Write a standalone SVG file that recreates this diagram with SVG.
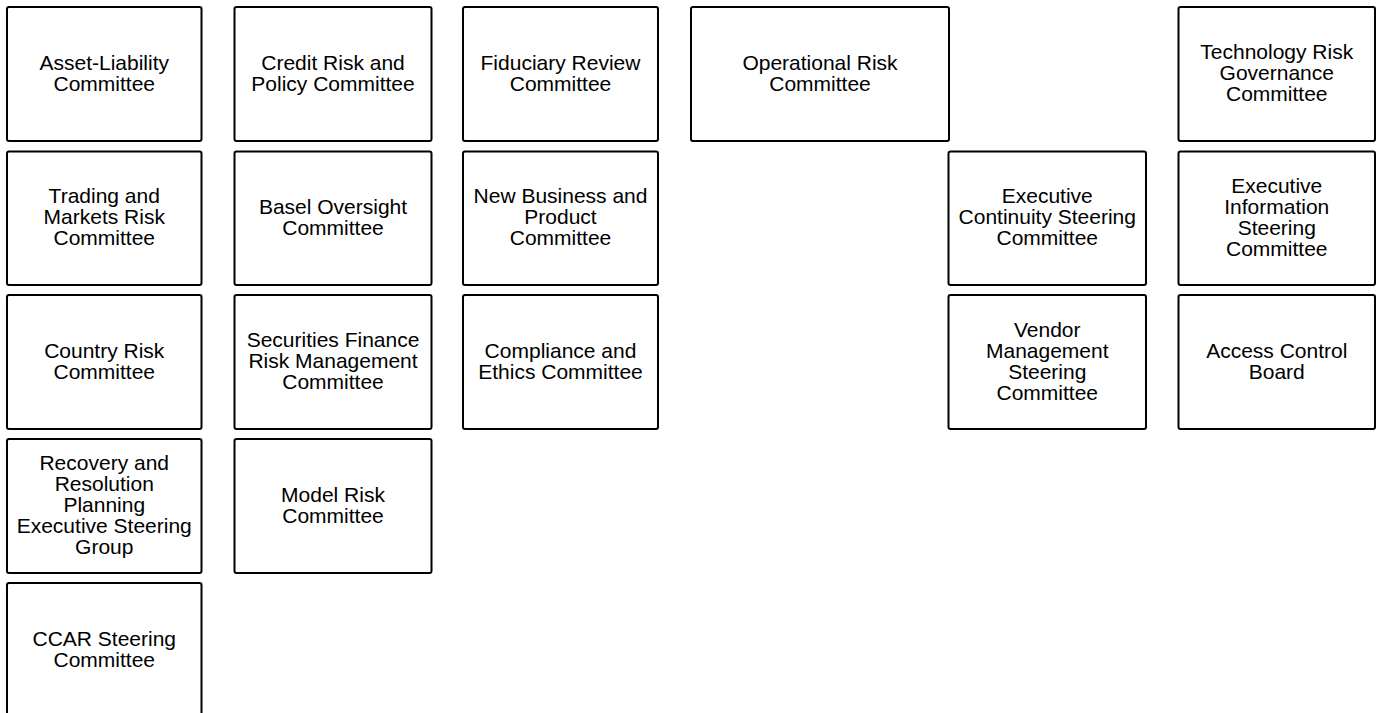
<svg xmlns="http://www.w3.org/2000/svg" width="1377" height="713" viewBox="0 0 1377 713">
<style>
.box{fill:#fff;stroke:#000;stroke-width:2}
.lbl{font-family:"Liberation Sans",Arial,sans-serif;font-size:21px;fill:#000;text-anchor:middle}
</style>
<rect width="1377" height="713" fill="#fff"/>
<g id="connectors"></g>
<g id="n-alco"><rect class="box" x="7" y="7" width="194.5" height="134" rx="2"/><text class="lbl" x="104.25"><tspan x="104.25" y="69.5">Asset-Liability</tspan><tspan x="104.25" y="90.5">Committee</tspan></text></g>
<g id="n-credit"><rect class="box" x="234.5" y="7" width="197" height="134" rx="2"/><text class="lbl"><tspan x="333" y="69.5">Credit Risk and</tspan><tspan x="333" y="90.5">Policy Committee</tspan></text></g>
<g id="n-fiduciary"><rect class="box" x="463" y="7" width="195" height="134" rx="2"/><text class="lbl"><tspan x="560.5" y="69.5">Fiduciary Review</tspan><tspan x="560.5" y="90.5">Committee</tspan></text></g>
<g id="n-oprisk"><rect class="box" x="691" y="7" width="258" height="134" rx="2"/><text class="lbl"><tspan x="820" y="69.5">Operational Risk</tspan><tspan x="820" y="90.5">Committee</tspan></text></g>
<g id="n-techrisk"><rect class="box" x="1178.5" y="7" width="196.5" height="134" rx="2"/><text class="lbl"><tspan x="1276.75" y="59">Technology Risk</tspan><tspan x="1276.75" y="80">Governance</tspan><tspan x="1276.75" y="101">Committee</tspan></text></g>

<g id="n-trading"><rect class="box" x="7" y="151.5" width="194.5" height="133.5" rx="2"/><text class="lbl"><tspan x="104.25" y="203.25">Trading and</tspan><tspan x="104.25" y="224.25">Markets Risk</tspan><tspan x="104.25" y="245.25">Committee</tspan></text></g>
<g id="n-basel"><rect class="box" x="234.5" y="151.5" width="197" height="133.5" rx="2"/><text class="lbl"><tspan x="333" y="213.75">Basel Oversight</tspan><tspan x="333" y="234.75">Committee</tspan></text></g>
<g id="n-newbiz"><rect class="box" x="463" y="151.5" width="195" height="133.5" rx="2"/><text class="lbl"><tspan x="560.5" y="203.25">New Business and</tspan><tspan x="560.5" y="224.25">Product</tspan><tspan x="560.5" y="245.25">Committee</tspan></text></g>
<g id="n-execcont"><rect class="box" x="948.5" y="151.5" width="197.5" height="133.5" rx="2"/><text class="lbl"><tspan x="1047.25" y="203.25">Executive</tspan><tspan x="1047.25" y="224.25">Continuity Steering</tspan><tspan x="1047.25" y="245.25">Committee</tspan></text></g>
<g id="n-execinfo"><rect class="box" x="1178.5" y="151.5" width="196.5" height="133.5" rx="2"/><text class="lbl"><tspan x="1276.75" y="192.75">Executive</tspan><tspan x="1276.75" y="213.75">Information</tspan><tspan x="1276.75" y="234.75">Steering</tspan><tspan x="1276.75" y="255.75">Committee</tspan></text></g>

<g id="n-country"><rect class="box" x="7" y="295" width="194.5" height="134" rx="2"/><text class="lbl"><tspan x="104.25" y="357.5">Country Risk</tspan><tspan x="104.25" y="378.5">Committee</tspan></text></g>
<g id="n-secfin"><rect class="box" x="234.5" y="295" width="197" height="134" rx="2"/><text class="lbl"><tspan x="333" y="347">Securities Finance</tspan><tspan x="333" y="368">Risk Management</tspan><tspan x="333" y="389">Committee</tspan></text></g>
<g id="n-compliance"><rect class="box" x="463" y="295" width="195" height="134" rx="2"/><text class="lbl"><tspan x="560.5" y="357.5">Compliance and</tspan><tspan x="560.5" y="378.5">Ethics Committee</tspan></text></g>
<g id="n-vendor"><rect class="box" x="948.5" y="295" width="197.5" height="134" rx="2"/><text class="lbl"><tspan x="1047.25" y="336.5">Vendor</tspan><tspan x="1047.25" y="357.5">Management</tspan><tspan x="1047.25" y="378.5">Steering</tspan><tspan x="1047.25" y="399.5">Committee</tspan></text></g>
<g id="n-access"><rect class="box" x="1178.5" y="295" width="196.5" height="134" rx="2"/><text class="lbl"><tspan x="1276.75" y="357.5">Access Control</tspan><tspan x="1276.75" y="378.5">Board</tspan></text></g>

<g id="n-recovery"><rect class="box" x="7" y="439" width="194.5" height="134" rx="2"/><text class="lbl"><tspan x="104.25" y="470">Recovery and</tspan><tspan x="104.25" y="491">Resolution</tspan><tspan x="104.25" y="512">Planning</tspan><tspan x="104.25" y="533">Executive Steering</tspan><tspan x="104.25" y="554">Group</tspan></text></g>
<g id="n-model"><rect class="box" x="234.5" y="439" width="197" height="134" rx="2"/><text class="lbl"><tspan x="333" y="501.5">Model Risk</tspan><tspan x="333" y="522.5">Committee</tspan></text></g>

<g id="n-ccar"><rect class="box" x="7" y="583" width="194.5" height="134" rx="2"/><text class="lbl"><tspan x="104.25" y="645.5">CCAR Steering</tspan><tspan x="104.25" y="666.5">Committee</tspan></text></g>
</svg>
